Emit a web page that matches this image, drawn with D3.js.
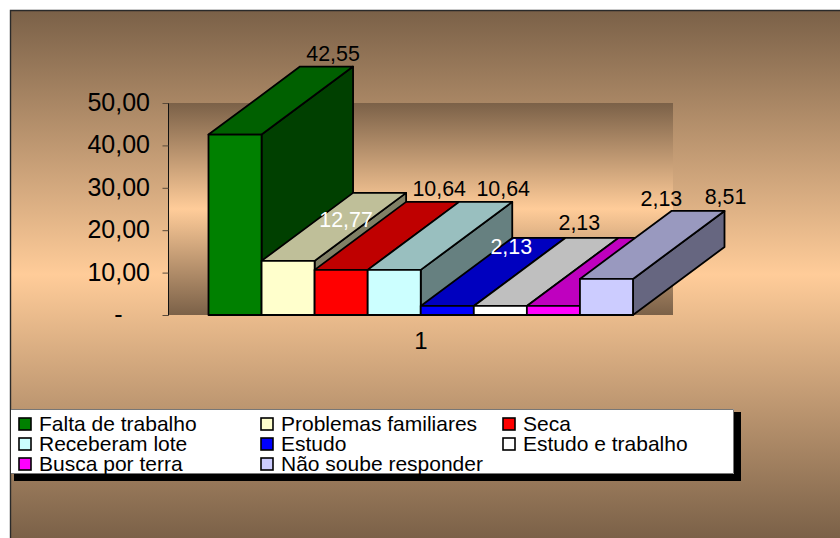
<!DOCTYPE html>
<html>
<head>
<meta charset="utf-8">
<script src="https://cdnjs.cloudflare.com/ajax/libs/d3/7.8.5/d3.min.js"></script>
<style>
html,body{margin:0;padding:0;background:#fff}
svg{display:block}
text{font-family:"Liberation Sans",Arial,sans-serif}
</style>
</head>
<body>
<svg id="c" width="840" height="538"></svg>
<script>
const categories = ["Falta de trabalho","Problemas familiares","Seca","Receberam lote","Estudo","Estudo e trabalho","Busca por terra","Não soube responder"];
const values = [42.55,12.77,10.64,10.64,2.13,2.13,2.13,8.51];
const colors = ["#008000","#FFFFCC","#FF0000","#CCFFFF","#0000FF","#FFFFFF","#FF00FF","#CCCCFF"];
const yTicks = [0,10,20,30,40,50];
const groupLabel = "1";
// data label placement (layout, relative to the bar's front-top centre)
const labelDx = [98,58,98,109,64,79,108,119];
const labelY  = [54,220,189,189,247,223,199,197];
const labelFill = ["#000","#fff","#000","#000","#fff","#000","#000","#000"];

const fmt = v => v === 0 ? "-" : v.toFixed(2).replace(".",",");
const svg = d3.select("#c");
const defs = svg.append("defs");
const BROWN="#7B6148", PEACH="#FFCC99";
function grad(id){
  const g=defs.append("linearGradient").attr("id",id).attr("x1",0).attr("x2",0).attr("y1",0).attr("y2",1);
  g.append("stop").attr("offset","0%").attr("stop-color",BROWN);
  g.append("stop").attr("offset","50%").attr("stop-color",PEACH);
  g.append("stop").attr("offset","100%").attr("stop-color",BROWN);
}
grad("bg");grad("wall");

// chart frame
svg.append("rect").attr("x",11).attr("y",11).attr("width",829).attr("height",527).attr("fill","url(#bg)");
svg.append("path").attr("d","M10.5,538V10.5H840").attr("fill","none").attr("stroke","#2a2a2a").attr("stroke-width",1.4);

const y = d3.scaleLinear().domain([0,50]).range([315,103]);
const x = d3.scaleBand().domain(categories).range([208.5,633]).padding(0);
const depthX = 91.5, depthY = 68;

// back wall
svg.append("rect").attr("x",168.5).attr("y",y(50)).attr("width",504.5).attr("height",y(0)-y(50)).attr("fill","url(#wall)");

// axis
const axis = d3.axisLeft(y).tickValues(yTicks).tickFormat(fmt).tickSize(6).tickPadding(12);
const ag = svg.append("g").attr("transform","translate(168.5,0)").call(axis);
ag.selectAll(".tick line").attr("stroke","#5a4a3a");
ag.select(".domain").attr("stroke","#111").attr("stroke-width",1).attr("d","M0,103V315.5");
ag.selectAll(".tick text").attr("font-size",25).attr("fill","#000").style("font-family",'"Liberation Sans",Arial,sans-serif')
  .attr("dy","0.3em").attr("x",d=>d===0?-46:-18.5);

// bars
const shade=(c,k)=>{const r=d3.rgb(c);return d3.rgb(r.r*k,r.g*k,r.b*k).formatHex();};
const bars = svg.append("g").selectAll("g").data(categories.map((c,i)=>({c,i,v:values[i],col:colors[i]}))).join("g")
  .attr("stroke","#000").attr("stroke-width",1.8).attr("stroke-linejoin","round");
bars.append("path").attr("fill",d=>shade(d.col,0.5)).attr("d",d=>{
  const X=x(d.c)+x.bandwidth(),T=y(d.v),B=y(0);
  return `M${X},${T}l${depthX},${-depthY}V${B-depthY}L${X},${B}Z`;});
bars.append("path").attr("fill",d=>shade(d.col,0.75)).attr("d",d=>{
  const X=x(d.c),W=x.bandwidth(),T=y(d.v);
  return `M${X},${T}l${depthX},${-depthY}h${W}l${-depthX},${depthY}Z`;});
bars.append("rect").attr("fill",d=>d.col).attr("x",d=>x(d.c)).attr("y",d=>y(d.v)).attr("width",x.bandwidth()).attr("height",d=>y(0)-y(d.v));

// data labels
svg.append("g").selectAll("text").data(values).join("text")
  .attr("x",(d,i)=>x(categories[i])+x.bandwidth()/2+labelDx[i]).attr("y",(d,i)=>labelY[i])
  .attr("text-anchor","middle").attr("dy","0.35em").attr("font-size",21.4).attr("fill",(d,i)=>labelFill[i])
  .text(d=>fmt(d));

// category label
svg.append("text").attr("x",421).attr("y",341).attr("text-anchor","middle").attr("dy","0.35em").attr("font-size",24).text(groupLabel);

// legend
const lx=11,ly=409,lw=723,lh=65;
svg.append("rect").attr("x",14).attr("y",412).attr("width",727).attr("height",69).attr("fill","#000");
svg.append("rect").attr("x",lx).attr("y",ly).attr("width",lw).attr("height",lh).attr("fill","#fff");
svg.append("path").attr("d",`M${lx},${ly+.5}H${lx+lw-.5}V${ly+lh-.5}H${lx}`).attr("fill","none").attr("stroke","#777").attr("stroke-width",1);
const li = svg.append("g").selectAll("g").data(categories).join("g")
  .attr("transform",(d,i)=>`translate(${18.5+(i%3)*242},${424+Math.floor(i/3)*20})`);
li.append("rect").attr("x",0.5).attr("y",-6).attr("width",12).attr("height",12).attr("fill",(d,i)=>colors[i]).attr("stroke","#000").attr("stroke-width",1.6);
li.append("text").attr("x",20.5).attr("dy","0.35em").attr("font-size",21).attr("fill","#000").text(d=>d);
</script>
</body>
</html>
